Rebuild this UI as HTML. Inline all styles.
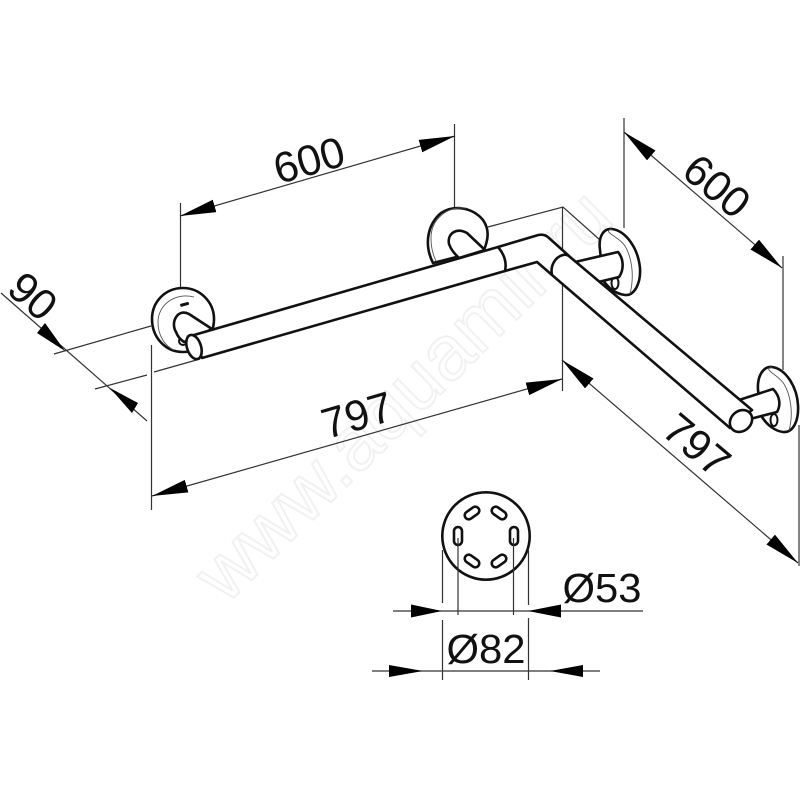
<!DOCTYPE html>
<html><head><meta charset="utf-8"><style>
html,body{margin:0;padding:0;background:#fff}
svg{display:block}
text{font-family:"Liberation Sans",sans-serif;fill:#111;text-anchor:middle}
.d{fill:none;stroke:#333;stroke-width:1.2}
.a{fill:none;stroke:#333;stroke-width:1.2;marker-start:url(#ar);marker-end:url(#ar)}
.h{fill:#fff;stroke:#111;stroke-width:2.6;stroke-linejoin:round;stroke-linecap:round}
.n{fill:none;stroke:#111;stroke-width:2.6;stroke-linecap:round;stroke-linejoin:round}
.t{fill:none;stroke:#555;stroke-width:.9}
.s{fill:#fff;stroke:#111;stroke-width:2}
</style></head><body>
<svg width="800" height="800" viewBox="0 0 800 800" xmlns="http://www.w3.org/2000/svg">
<defs>
<marker id="ar" markerUnits="userSpaceOnUse" markerWidth="40" markerHeight="16" refX="36" refY="8" orient="auto-start-reverse">
<path d="M0,1.5 L36,8 L0,14.5 Z" fill="#000"/>
</marker>
</defs>
<rect width="800" height="800" fill="#fff"/>

<!-- watermark -->
<text transform="translate(403,395) rotate(-44.5)" y="26" font-size="77" style="fill:#fff;stroke:#f1f1f1;stroke-width:2">www.aquamir.ru</text>

<!-- wall / extension lines -->
<path class="d" d="M180.5,203V288M454.5,124V208M624,118V228M783,256V370M799,425V566M151.5,345V510M562.5,207V258M562.5,278V391M488,227L563,207L600,240"/>
<path class="d" d="M54,354L151,326M95,389L147,375M154,372L200,359"/>

<!-- dimension lines -->
<path class="a" d="M180,216L455,136"/>
<path class="a" d="M624,132L782,268"/>
<path class="a" d="M152,496L562,379"/>
<path class="a" d="M562,360L798,563"/>
<path class="d" d="M1,293L147,421"/>
<path d="M37,333L45,323L65,351Z" fill="#000"/>
<path d="M132,413L138,403L110,388Z" fill="#000"/>

<!-- flange 1 -->
<path class="h" d="M214,319C214,337 200,352 183,352C165,352 152,337 152,319C152,302 165,288 183,288C200,288 214,302 214,319Z"/>
<path class="t" d="M194,297C175,292 158,305 158,322C158,336 165,346 174,350"/>
<rect x="180" y="303" width="9" height="3" rx="1" transform="rotate(-15 184 304)" fill="#111"/>
<circle class="s" cx="183" cy="341" r="4"/>
<path class="h" d="M212,329L189,314C178,308 170,322 176,332C178,337 180,339 184,342Z"/>

<!-- flange 2 -->
<path class="h" d="M433,263C424,245 427,225 441,213C455,204 473,208 483,220C490,230 488,240 484,250Z"/>
<path class="t" d="M466,208C446,206 431,220 431,238C431,248 433,255 436,261"/>
<path class="h" d="M485,250L467,233C456,227 447,234 449,244C451,250 455,254 459,258Z"/>

<!-- flange 3 -->
<path class="h" d="M600,250C598,236 604,228 612,229C626,231 638,248 640,268C641,284 634,296 625,295C616,294 608,288 603,280Z"/>
<path class="t" d="M612,229C601,232 619,236 625,246C631,256 635,274 630,294"/>
<ellipse class="s" cx="615" cy="283" rx="3.5" ry="6"/>
<path class="h" d="M575,262L618,252C624,259 624,270 619,277L590,284Z"/>

<!-- flange 4 -->
<path class="h" d="M758,390C757,375 764,366 772,367C786,369 797,387 798,405C799,421 793,433 783,432C775,431 767,425 762,417Z"/>
<path class="t" d="M772,367C762,370 778,374 784,384C790,394 794,412 789,431"/>
<ellipse class="s" cx="774" cy="420" rx="3.5" ry="6"/>
<path class="h" d="M736,401L773,389C780,396 781,405 777,412L750,419Z"/>

<!-- corner section -->
<path class="h" d="M498,247L535,236C540,234 545,234 549,238L569,256L552,275L537,262L505,271Z"/>
<!-- left bar -->
<path class="h" d="M194,335L498,247C504,254 507,262 505,271L202,358Z"/>
<ellipse class="h" cx="194" cy="347" rx="7" ry="12.5" transform="rotate(-18 194 347)"/>
<!-- right bar -->
<path class="h" d="M552,275C550,266 555,257 563,255C566,254 568,255 570,257L752,410L730,428Z"/>
<ellipse class="h" cx="741" cy="421" rx="12" ry="10" transform="rotate(-42 741 421)"/>

<!-- plan view -->
<circle class="n" cx="486" cy="536" r="43.7"/>
<g class="n" fill="none">
<rect x="451" y="527" width="8" height="18" rx="4" transform="translate(3,0)"/>
<rect x="510" y="527" width="8" height="18" rx="4"/>
<rect x="464" y="509" width="16" height="8" rx="4" transform="rotate(-35 472 513)"/>
<rect x="491" y="509" width="16" height="8" rx="4" transform="rotate(35 499 513)"/>
<rect x="464" y="557" width="16" height="8" rx="4" transform="rotate(35 472 561)"/>
<rect x="491" y="557" width="16" height="8" rx="4" transform="rotate(-35 499 561)"/>
</g>
<path class="d" d="M442.5,550V603M442.5,620V680M528.5,550V605M528.5,618V680M458,538V615M513.5,538V615M393,611H643M372,671H600"/>
<path d="M411,604.5V617.5L442,611Z" fill="#000"/>
<path d="M561,604.5V617.5L528,611Z" fill="#000"/>
<path d="M389,665V677L423,671Z" fill="#000"/>
<path d="M583,665V677L550,671Z" fill="#000"/>

<!-- labels -->
<text transform="translate(309,160) rotate(-16)" y="15" font-size="43">600</text>
<text transform="translate(717,186) rotate(40)" y="15" font-size="43">600</text>
<text transform="translate(33,296) rotate(41)" y="15" font-size="43">90</text>
<text transform="translate(357,415) rotate(-16)" y="15" font-size="43">797</text>
<text transform="translate(697,445) rotate(40)" y="15" font-size="43">797</text>
<text x="602" y="602" font-size="41" textLength="79" lengthAdjust="spacingAndGlyphs">Ø53</text>
<text x="486" y="663" font-size="41" textLength="79" lengthAdjust="spacingAndGlyphs">Ø82</text>
</svg>
</body></html>
